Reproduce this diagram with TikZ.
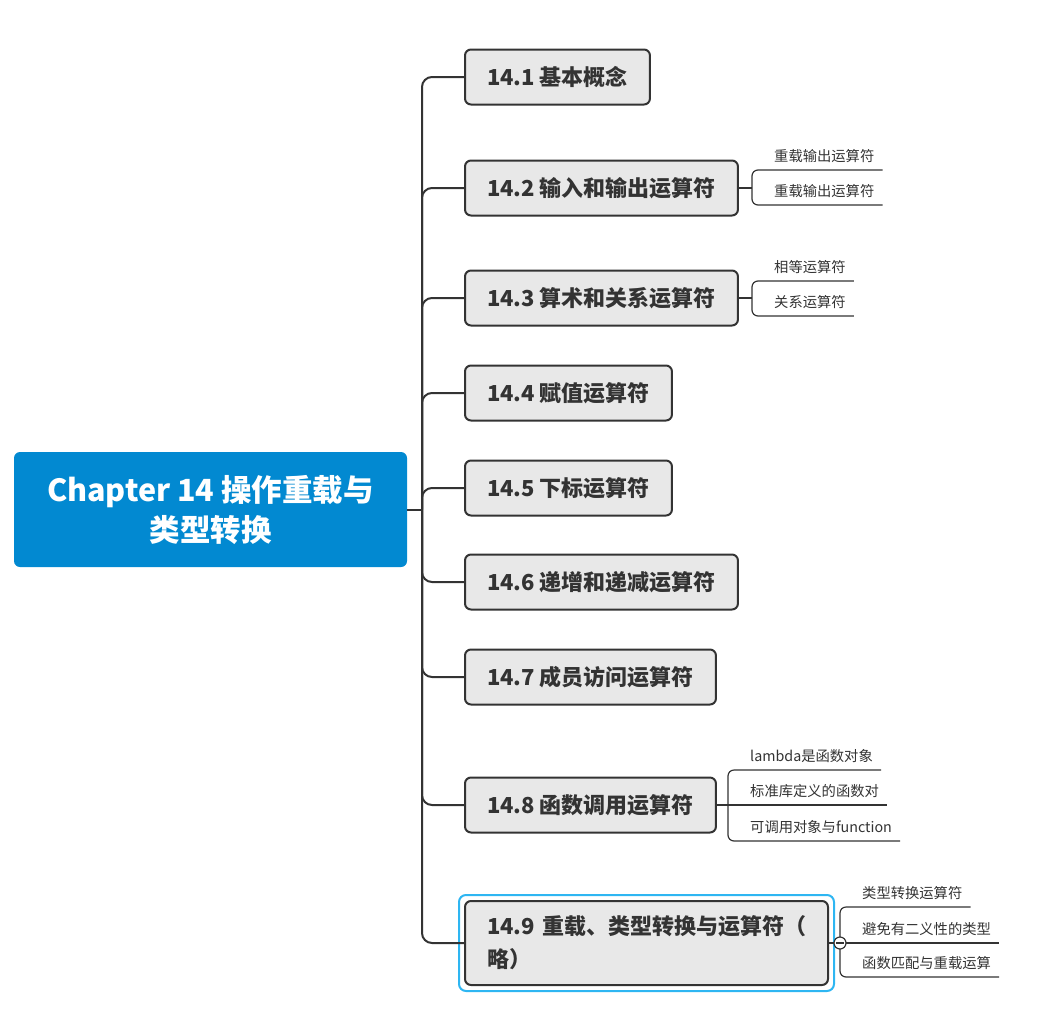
\documentclass[tikz,border=0pt]{standalone}
\usepackage{fontspec}
\setmainfont{Noto Sans CJK SC}
\definecolor{rootblue}{HTML}{0289D1}
\definecolor{boxgray}{HTML}{E8E8E8}
\definecolor{ink}{HTML}{333333}
\definecolor{selcyan}{HTML}{2EB6F2}

\begin{document}
\begin{tikzpicture}[x=1pt,y=-1pt,
  root/.style={fill=rootblue, rounded corners=6, minimum width=393, minimum height=115, align=center, text=white, font=\fontsize{30.5}{40}\selectfont\bfseries},
  topic/.style={draw=ink, fill=boxgray, line width=2, rounded corners=6, anchor=west, minimum height=55, inner xsep=22, text=ink, font=\fontsize{22}{33}\selectfont\bfseries},
  leaf/.style={anchor=south west, inner xsep=8, inner ysep=6, text depth=2, text=ink, font=\fontsize{14.3}{16}\selectfont},
  trunk/.style={draw=ink, line width=2, rounded corners=10},
  twig/.style={draw=ink, line width=1.2, rounded corners=6},
  toggle/.style={circle, draw=ink, fill=white, line width=1.2, minimum size=12, inner sep=0}]
\useasboundingbox (0,0) rectangle (1050,1026);
\node[root] (root) at (210.5,509.5) {Chapter 14 操作重载与\\类型转换};
\coordinate (hub) at (422,509.5);
\node[topic] (c1) at (464,77) {14.1 基本概念};
\node[topic] (c2) at (464,188) {14.2 输入和输出运算符};
\node[topic] (c3) at (464,298) {14.3 算术和关系运算符};
\node[topic] (c4) at (464,393) {14.4 赋值运算符};
\node[topic] (c5) at (464,488) {14.5 下标运算符};
\node[topic] (c6) at (464,582) {14.6 递增和递减运算符};
\node[topic] (c7) at (464,677) {14.7 成员访问运算符};
\node[topic] (c8) at (464,805) {14.8 函数调用运算符};
\node[topic, text width=319, align=left, minimum height=84] (c9) at (464,943) {\mbox{14.9 重载、类型转换与运算符（}\\略）};
\draw[selcyan, line width=2, rounded corners=7] ([xshift=-5pt,yshift=5pt]c9.north west) rectangle ([xshift=5pt,yshift=-5pt]c9.south east);
\draw[trunk] (root.east) -- (hub);
\foreach \c in {c1,c2,c3,c4,c5,c6,c7,c8,c9}
  \draw[trunk] (hub) |- (\c.west);
\node[leaf] (l2a) at (766,170) {重载输出运算符};
\node[leaf] (l2b) at (766,205) {重载输出运算符};
\coordinate (j2) at (752,188);
\draw[twig] (c2.east) -- (j2);
\draw[twig] (l2a.south east) -| (j2) |- (l2b.south east);
\node[leaf] (l3a) at (766,281) {相等运算符};
\node[leaf] (l3b) at (766,316) {关系运算符};
\coordinate (j3) at (752,298);
\draw[twig] (c3.east) -- (j3);
\draw[twig] (l3a.south east) -| (j3) |- (l3b.south east);
\node[leaf] (l8a) at (742,770) {lambda是函数对象};
\node[leaf] (l8b) at (742,805) {标准库定义的函数对};
\node[leaf] (l8c) at (742,841) {可调用对象与function};
\coordinate (j8) at (728,805);
\draw[twig] (c8.east) -- (l8b.south east);
\draw[twig] (l8a.south east) -| (j8) |- (l8c.south east);
\node[leaf] (l9a) at (854,907) {类型转换运算符};
\node[leaf] (l9b) at (854,943) {避免有二义性的类型};
\node[leaf] (l9c) at (854,977) {函数匹配与重载运算};
\coordinate (j9) at (840,943);
\draw[twig] (c9.east) -- (j9) -- (l9b.south east);
\draw[twig] (l9a.south east) -| (j9) |- (l9c.south east);
\node[toggle] (k9) at (j9) {};
\draw[ink, line width=1.2] ([xshift=3pt]k9.west) -- ([xshift=-3pt]k9.east);
\end{tikzpicture}
\end{document}
